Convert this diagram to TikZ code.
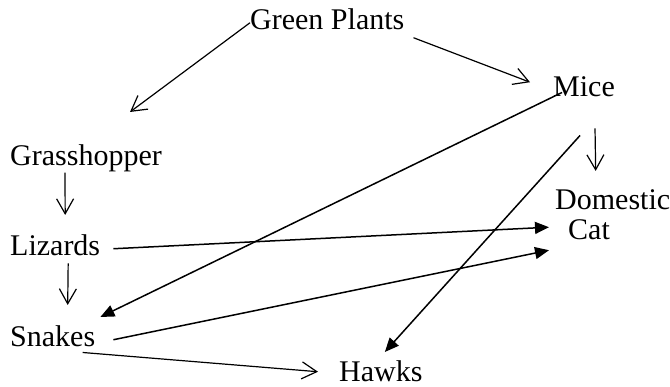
\documentclass[tikz,border=0pt]{standalone}
\usepackage{fontspec}
\setmainfont{Liberation Serif}
\usetikzlibrary{arrows.meta}
\begin{document}
\begin{tikzpicture}[x=1pt, y=-1pt,
  lab/.style={anchor=base west, inner sep=0pt, font=\fontsize{30}{36}\selectfont},
  arr/.style={-{Straight Barb[length=15pt,width=17pt]}, line width=1.2pt},
  farr/.style={-{Triangle[length=14pt,width=12pt]}, line width=1.5pt}]
\useasboundingbox (0,0) rectangle (670,387);
\node [lab] (gp) at (250,30) {Green Plants};
\node [lab] (mice) at (553,97) {Mice};
\node [lab] (grass) at (10,166) {Grasshopper};
\node [lab] (liz) at (10,256) {Lizards};
\node [lab] (snk) at (10,347) {Snakes};
\node [lab] (hawks) at (339,382) {Hawks};
\node [lab] (dom) at (555,210) {Domestic};
\node [lab] (cat) at (568,240) {Cat};
\draw [arr] ([shift={(0,3)}]gp.west) -- ([shift={(44,-33)}]grass.north);
\draw [arr] ([shift={(9,18)}]gp.east) -- ([shift={(-23,-5)}]mice.west);
\draw [arr] ([shift={(55,0)}]grass.south west) -- ([shift={(10,-20)}]liz.north);
\draw [arr] ([shift={(13,7)}]liz.south) -- ([shift={(15,-21)}]snk.north);
\draw [arr] ([shift={(11,31)}]mice.south) -- ([shift={(-17,-19)}]dom.north);
\draw [arr] ([shift={(30,5)}]snk.south) -- ([shift={(-21,0)}]hawks.west);
\draw [farr] ([shift={(9,-5)}]mice.south west) -- ([shift={(5,-9)}]snk.north east);
\draw [farr] ([shift={(-4,38)}]mice.south) -- ([shift={(4,-9)}]hawks.north);
\draw [farr] ([shift={(13,3)}]liz.east) -- ([shift={(-19,-3)}]cat.west);
\draw [farr] ([shift={(18,3)}]snk.east) -- ([shift={(-19,20)}]cat.west);
\end{tikzpicture}
\end{document}
